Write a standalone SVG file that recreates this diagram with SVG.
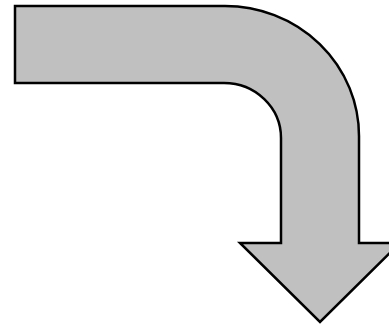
<svg xmlns="http://www.w3.org/2000/svg" width="389" height="325" viewBox="0 0 389 325">
<style>.shape{fill:#c0c0c0;stroke:#000;stroke-width:2.5;stroke-linejoin:miter}</style>
<rect width="389" height="325" fill="#fff"/>
<g id="bent-arrow">
<path class="shape" d="M15,6 H225 A134,130 0 0 1 359,136 V243 H400 L320,322 L240,243 H281 V138 A57,55 0 0 0 224,83 H15 Z"/>
</g>
</svg>
